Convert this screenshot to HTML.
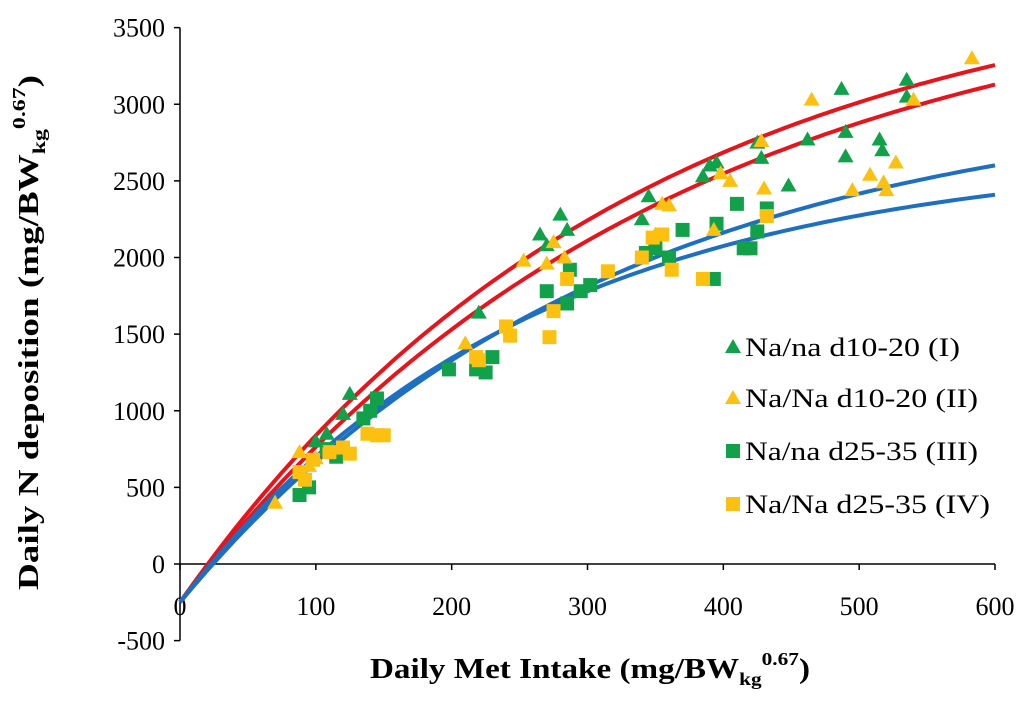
<!DOCTYPE html>
<html><head><meta charset="utf-8"><style>
body{margin:0;background:#fff}
svg text{font-family:"Liberation Serif",serif}
</style></head><body>
<svg id="chart" width="1024" height="696" xmlns="http://www.w3.org/2000/svg"></svg>
<script>
const xTicks=[0,100,200,300,400,500,600];
const yTicks=[-500,0,500,1000,1500,2000,2500,3000,3500];
const s1x=[100,108,125,120,220,265,270,280,285,340,345,390,385,395,425,428,448,462,487,490,490,515,517,535,535];
const s1y=[800,850,1110,980,1640,2150,2080,2280,2180,2250,2400,2600,2530,2620,2750,2650,2470,2770,3100,2820,2660,2770,2700,3160,3050];
const s2x=[70,88,95,100,210,253,270,275,283,350,355,360,393,398,405,428,430,465,495,508,518,520,527,540,583];
const s2y=[400,730,640,690,1440,1980,1960,2100,2000,2150,2350,2340,2180,2550,2500,2760,2450,3030,2440,2540,2490,2440,2620,3030,3300];
const s3x=[88,95,108,115,135,140,145,198,218,225,230,270,285,287,295,302,343,350,360,370,393,395,410,415,420,425,432];
const s3y=[450,500,750,700,950,1000,1080,1270,1270,1250,1350,1780,1700,1920,1780,1820,2030,2060,2000,2180,1860,2220,2350,2060,2060,2170,2320];
const s4x=[88,92,98,110,120,125,138,145,150,218,220,240,243,272,275,285,315,340,348,355,362,385,432];
const s4y=[600,550,680,730,760,720,850,840,840,1350,1330,1550,1490,1480,1650,1860,1910,2000,2130,2150,1920,1860,2270];
const curveA=[4200,4152,3341,2943];
const curveK=[0.003,0.0028,0.0032,0.0039];
const curveColor=['#e8141b','#e8141b','#1f6fc1','#1f6fc1'];
const legendLabels=['Na/na d10-20 (I)','Na/Na d10-20 (II)','Na/na d25-35 (III)','Na/Na d25-35 (IV)'];

const NS='http://www.w3.org/2000/svg';
const svg=document.getElementById('chart');
const X=v=>180+v*815/600;
const Y=v=>564-v*613/4000;
function mk(t,a,p){const e=document.createElementNS(NS,t);for(const k in a)e.setAttribute(k,a[k]);(p||svg).appendChild(e);return e;}

const ax=mk('g',{});


mk('line',{x1:X(0),y1:Y(3500),x2:X(0),y2:Y(-500),stroke:'#000','stroke-width':1.5},ax);
mk('line',{x1:X(0),y1:Y(0),x2:X(600),y2:Y(0),stroke:'#000','stroke-width':1.5},ax);
yTicks.forEach(v=>{
  mk('line',{x1:X(0)-6,y1:Y(v),x2:X(0),y2:Y(v),stroke:'#000','stroke-width':1.5},ax);
  const t=mk('text',{x:165,y:Y(v)+9,'text-anchor':'end','font-size':26},ax);t.textContent=v;
  
  
});
xTicks.forEach(v=>{
  mk('line',{x1:X(v),y1:Y(0),x2:X(v),y2:Y(0)+6,stroke:'#000','stroke-width':1.5},ax);
  const t=mk('text',{x:X(v),y:615,'text-anchor':'middle','font-size':26},ax);t.textContent=v;
  
  
});
const xt=mk('text',{x:370,y:678,'font-size':28,'font-weight':'bold',textLength:440,lengthAdjust:'spacingAndGlyphs'});


xt.innerHTML='Daily Met Intake (mg/BW<tspan font-size="18" dy="7">kg</tspan><tspan font-size="18" dy="-20">0.67</tspan><tspan dy="13">)</tspan>';
const yt=mk('text',{x:0,y:0,'font-size':28,'font-weight':'bold',textLength:515,lengthAdjust:'spacingAndGlyphs',transform:'translate(38,590) rotate(-90)'});


yt.innerHTML='Daily N deposition (mg/BW<tspan font-size="18" dy="7">kg</tspan><tspan font-size="18" dy="-20">0.67</tspan><tspan dy="13">)</tspan>';

curveA.forEach((A,i)=>{
  let d='';
  for(let x=0;x<=600;x+=5){const y=A*(1-Math.exp(-curveK[i]*x))-250;d+=(x?'L':'M')+X(x).toFixed(1)+','+Y(y).toFixed(1);}
  const p=mk('path',{d,fill:'none',stroke:curveColor[i],'stroke-width':4});
  
  
});

const G='#12a14b',O='#fcc010';
function tri(cx,cy,c,p){return mk('polygon',{points:`${cx},${cy-8} ${cx-8},${cy+6} ${cx+8},${cy+6}`,fill:c},p);}
function sq(cx,cy,c,p){return mk('rect',{x:cx-7,y:cy-7,width:14,height:14,fill:c},p);}
function series(xs,ys,c,shape,name){
  const g=mk('g',{});
  
  
  xs.forEach((x,i)=>{const e=shape(X(x),Y(ys[i]),c,g);
    
    });
}
series(s3x,s3y,G,sq,'series-iii');
series(s4x,s4y,O,sq,'series-iv');
series(s1x,s1y,G,tri,'series-i');
series(s2x,s2y,O,tri,'series-ii');

const lg=mk('g',{});


const lc=[G,O,G,O],ls=[tri,tri,sq,sq],ly=[347,398,451,504],lw=[215,233,233,245];
legendLabels.forEach((l,i)=>{
  ls[i](733,ly[i],lc[i],lg);
  const t=mk('text',{x:745,y:ly[i]+9,'font-size':26,textLength:lw[i],lengthAdjust:'spacingAndGlyphs'},lg);t.textContent=l;
  
  
});
</script>
</body></html>
